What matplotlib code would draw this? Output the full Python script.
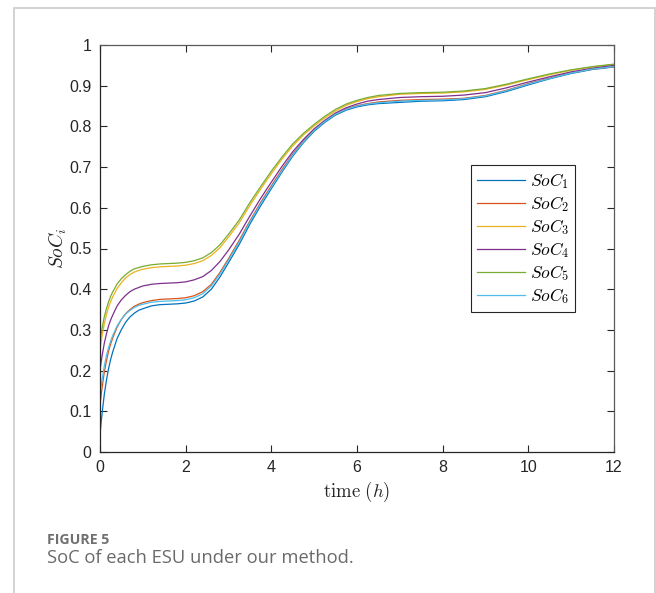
import matplotlib
matplotlib.use("Agg")
import matplotlib.pyplot as plt
from matplotlib.patches import Rectangle

plt.rcParams["mathtext.fontset"] = "cm"
plt.rcParams["font.family"] = ["Liberation Sans", "DejaVu Sans"]

# time grid (hours)
t = [0, 0.025, 0.05, 0.1, 0.15, 0.2, 0.25, 0.3, 0.4, 0.5, 0.6, 0.7, 0.8, 0.9, 1.0,
     1.2, 1.4, 1.6, 1.8, 2.0, 2.2, 2.4, 2.6, 2.8, 3.0, 3.25, 3.5, 3.75, 4.0,
     4.25, 4.5, 4.75, 5.0, 5.25, 5.5, 5.75, 6.0, 6.25, 6.5, 7.0, 7.5, 8.0,
     8.5, 9.0, 9.5, 10.0, 10.5, 11.0, 11.5, 12.0]

soc1 = [0.042, 0.071, 0.096, 0.141, 0.176, 0.205, 0.228, 0.247, 0.279, 0.301, 0.319, 0.332, 0.341, 0.348, 0.352,
        0.359, 0.362, 0.363, 0.364, 0.366, 0.371, 0.381, 0.400, 0.430, 0.465, 0.510, 0.560, 0.605, 0.647,
        0.688, 0.727, 0.760, 0.788, 0.810, 0.828, 0.840, 0.848, 0.853, 0.856, 0.859, 0.862, 0.863,
        0.866, 0.873, 0.886, 0.902, 0.917, 0.930, 0.940, 0.946]
soc2 = [0.115, 0.138, 0.159, 0.196, 0.224, 0.248, 0.266, 0.281, 0.307, 0.326, 0.340, 0.350, 0.358, 0.363, 0.367,
        0.372, 0.375, 0.376, 0.377, 0.379, 0.384, 0.394, 0.412, 0.441, 0.475, 0.520, 0.568, 0.613, 0.654,
        0.694, 0.732, 0.764, 0.791, 0.813, 0.831, 0.843, 0.851, 0.856, 0.860, 0.864, 0.866, 0.867,
        0.869, 0.876, 0.889, 0.905, 0.919, 0.932, 0.941, 0.947]
soc3 = [0.252, 0.270, 0.287, 0.315, 0.337, 0.356, 0.370, 0.382, 0.402, 0.416, 0.428, 0.436, 0.442, 0.446, 0.449,
        0.453, 0.455, 0.456, 0.457, 0.459, 0.463, 0.470, 0.483, 0.502, 0.528, 0.563, 0.606, 0.646, 0.684,
        0.720, 0.752, 0.779, 0.801, 0.821, 0.838, 0.852, 0.861, 0.868, 0.873, 0.879, 0.881, 0.882,
        0.885, 0.891, 0.902, 0.915, 0.927, 0.938, 0.946, 0.952]
soc4 = [0.201, 0.220, 0.237, 0.267, 0.290, 0.310, 0.325, 0.337, 0.359, 0.374, 0.385, 0.394, 0.400, 0.404, 0.408,
        0.412, 0.414, 0.415, 0.416, 0.418, 0.423, 0.431, 0.446, 0.468, 0.496, 0.535, 0.580, 0.623, 0.663,
        0.702, 0.738, 0.768, 0.794, 0.815, 0.833, 0.846, 0.855, 0.862, 0.866, 0.871, 0.873, 0.874,
        0.877, 0.883, 0.895, 0.909, 0.922, 0.934, 0.943, 0.950]
soc5 = [0.273, 0.290, 0.305, 0.332, 0.352, 0.369, 0.383, 0.394, 0.413, 0.426, 0.436, 0.444, 0.450, 0.453, 0.456,
        0.460, 0.462, 0.463, 0.464, 0.466, 0.470, 0.477, 0.490, 0.509, 0.535, 0.570, 0.613, 0.652, 0.690,
        0.725, 0.757, 0.783, 0.805, 0.825, 0.842, 0.855, 0.864, 0.871, 0.876, 0.881, 0.883, 0.884,
        0.887, 0.893, 0.904, 0.917, 0.929, 0.939, 0.947, 0.953]
soc6 = [0.140, 0.161, 0.179, 0.211, 0.237, 0.257, 0.273, 0.287, 0.310, 0.326, 0.339, 0.348, 0.355, 0.360, 0.363,
        0.368, 0.370, 0.371, 0.372, 0.374, 0.379, 0.389, 0.408, 0.437, 0.471, 0.516, 0.565, 0.610, 0.651,
        0.691, 0.730, 0.762, 0.790, 0.812, 0.830, 0.842, 0.850, 0.855, 0.858, 0.862, 0.864, 0.865,
        0.868, 0.875, 0.888, 0.904, 0.918, 0.931, 0.941, 0.947]

series = [soc1, soc2, soc3, soc4, soc5, soc6]
labels = [r"$SoC_{%d}$" % (i + 1) for i in range(6)]
colors = ["#0072BD", "#D95319", "#EDB120", "#7E2F8E", "#77AC30", "#4DBEEE"]

W, H = 656, 593
fig = plt.figure(figsize=(W / 100, H / 100), dpi=100)

# page frame
fig.add_artist(Rectangle((14 / W, -0.05), (655 - 14) / W, 1.05 - 8 / H,
                         transform=fig.transFigure, fill=False,
                         edgecolor="#cfcfcf", linewidth=1.3))

ax = fig.add_axes([100 / W, 1 - 452 / H, 514 / W, 407 / H])
for y, lab, c in zip(series, labels, colors):
    ax.plot(t, y, color=c, linewidth=0.9, label=lab)

ax.set_xlim(0, 12)
ax.set_ylim(0, 1)
ax.set_xticks(range(0, 13, 2))
ax.set_yticks([i / 10 for i in range(11)])
ax.set_yticklabels(["0"] + ["0.%d" % i for i in range(1, 10)] + ["1"])
ax.tick_params(direction="in", length=5, width=0.8, top=True, right=True,
               labelsize=11.5, colors="#262626", pad=6)
for side in ["left", "bottom"]:
    ax.spines[side].set_color("#262626")
for side in ["top", "right"]:
    ax.spines[side].set_color("#5a5a5a")
for s in ax.spines.values():
    s.set_linewidth(0.9)

ax.set_xlabel(r"$\mathrm{time}\ (h)$", fontsize=13.5, color="#262626", labelpad=3)
ax.set_ylabel(r"$SoC_i$", fontsize=14, color="#262626", labelpad=0)

leg = ax.legend(loc="upper left", bbox_to_anchor=(471 / W, 1 - 165 / H),
                bbox_transform=fig.transFigure, borderaxespad=0,
                fontsize=12.5, handlelength=2.75, handletextpad=0.3,
                labelspacing=0.17, borderpad=0.35, fancybox=False,
                framealpha=1, edgecolor="#262626")
leg.get_frame().set_linewidth(0.8)

fig.text(47 / W, 1 - 540 / H, "FIGURE 5", fontsize=10.2, fontweight="bold",
         family=["Open Sans", "DejaVu Sans"], color="#707070", va="center")
fig.text(47 / W, 1 - 558 / H, "SoC of each ESU under our method.", fontsize=13.2,
         family=["Open Sans", "DejaVu Sans"], color="#6a6a6a", va="center")

fig.savefig("out.png", dpi=100)
